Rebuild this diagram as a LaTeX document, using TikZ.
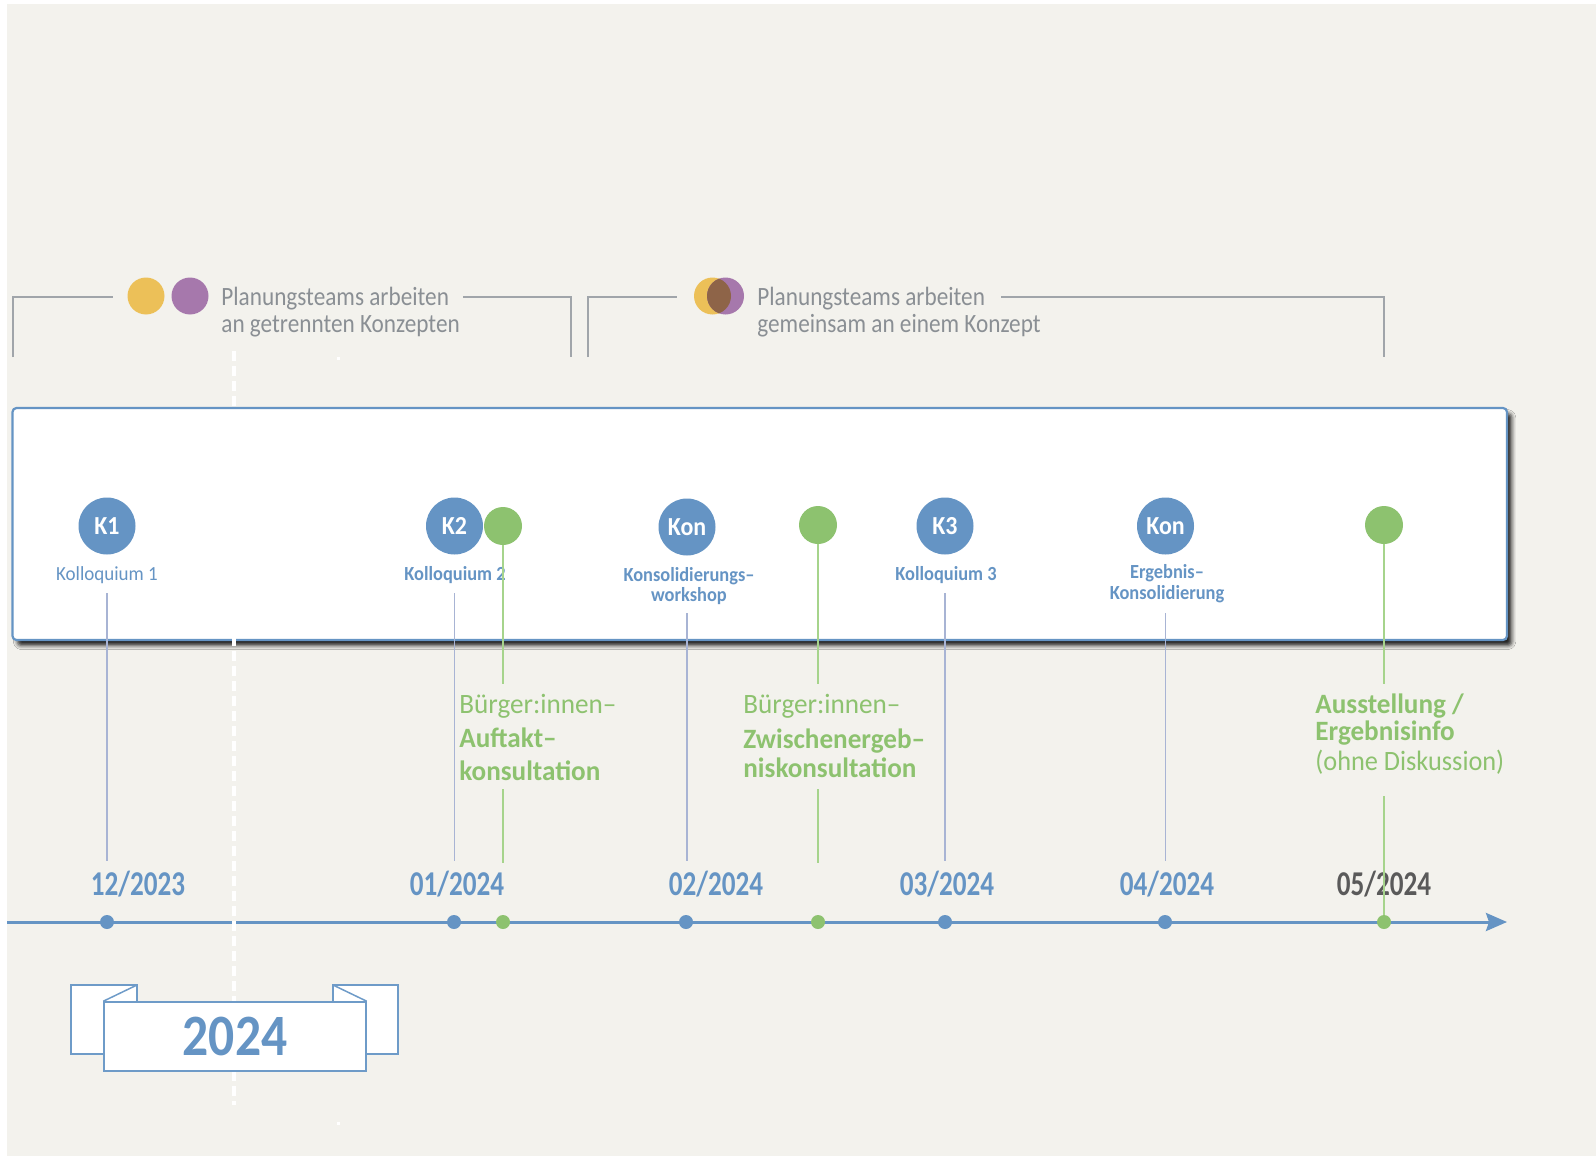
\documentclass[tikz,border=0pt]{standalone}
\usepackage{fontspec}
\setmainfont{Carlito}
\newfontfamily\graytxtfont[FakeStretch=0.88]{Carlito}
\newfontfamily\lblfont[FakeStretch=0.92]{Carlito}
\newfontfamily\lblregfont[FakeStretch=0.95]{Carlito}
\newfontfamily\datefont[FakeStretch=0.78]{Carlito}
\newfontfamily\yearfont[FakeStretch=0.88]{Carlito}
\newfontfamily\greenfont[FakeStretch=0.97]{Carlito}
\newfontfamily\noteFont[FakeStretch=0.94]{Carlito}
\usetikzlibrary{shadows.blur,arrows.meta}

\definecolor{bgc}{RGB}{243,242,237}
\definecolor{tlblue}{RGB}{101,148,196}
\definecolor{tlgreen}{RGB}{141,194,111}
\definecolor{lgreen}{RGB}{166,212,140}
\definecolor{lav}{RGB}{168,180,212}
\definecolor{brkgray}{RGB}{160,165,170}
\definecolor{txtgray}{RGB}{138,143,148}
\definecolor{tlyellow}{RGB}{236,192,88}
\definecolor{tlpurple}{RGB}{166,120,172}
\definecolor{tlbrown}{RGB}{142,100,72}
\definecolor{dategray}{RGB}{90,90,90}
\definecolor{ribbonblue}{RGB}{110,155,200}

\tikzset{
  brk/.style={draw=brkgray, line width=1pt},
  graytxt/.style={anchor=base west, inner sep=0pt, text=txtgray,
    font=\graytxtfont\fontsize{13.2}{13.2}\selectfont},
  teamdot/.style={circle, minimum size=18.5pt, inner sep=0pt},
  kcirc/.style={circle, fill=tlblue, text=white, minimum size=28.5pt, inner sep=0pt,
    font=\lblfont\bfseries\fontsize{13}{13}\selectfont},
  gcirc/.style={circle, fill=tlgreen, minimum size=19pt, inner sep=0pt},
  evlabel/.style={anchor=base, inner sep=0pt, text=tlblue,
    font=\lblfont\bfseries\fontsize{10}{10}\selectfont},
  bluelink/.style={draw=lav, line width=0.7pt},
  greenlink/.style={draw=lgreen, line width=0.7pt},
  adot/.style={circle, fill=tlblue, minimum size=7pt, inner sep=0pt},
  gdot/.style={circle, fill=tlgreen, minimum size=7pt, inner sep=0pt},
  datelbl/.style={anchor=base, inner sep=0pt, text=tlblue,
    font=\datefont\bfseries\fontsize{17.4}{17.4}\selectfont},
  greentxt/.style={anchor=base west, inner sep=0pt, text=tlgreen,
    font=\greenfont\fontsize{14}{14}\selectfont},
  greenbold/.style={greentxt, font=\greenfont\bfseries\fontsize{14}{14}\selectfont},
  flap/.style={draw=ribbonblue, fill=white, line width=0.75pt},
}

\begin{document}
\begin{tikzpicture}[x=0.5pt, y=-0.5pt]
\useasboundingbox (0,0) rectangle (1596,1156);
\fill[white] (0,0) rectangle (1596,1156);
\fill[bgc] (7,4) rectangle (1596,1156);

% ---- phase 1: separate concepts ----
\coordinate (b1l) at (12.5,357);
\coordinate (b1lt) at (12.5,297);
\coordinate (b1le) at (113,297);
\coordinate (b1rs) at (463,297);
\coordinate (b1rt) at (571,297);
\coordinate (b1r) at (571,357);
\draw[brk] (b1l) -- (b1lt) -- (b1le);
\draw[brk] (b1rs) -- (b1rt) -- (b1r);
\node[teamdot, fill=tlyellow] (y1) at (146,296) {};
\node[teamdot, fill=tlpurple] (p1) at (190,296) {};
\node[graytxt] (t1a) at (221,305) {Planungsteams arbeiten};
\node[graytxt] (t1b) at (221,332) {an getrennten Konzepten};

% ---- phase 2: one joint concept ----
\coordinate (b2l) at (588,357);
\coordinate (b2lt) at (588,297);
\coordinate (b2le) at (677,297);
\coordinate (b2rs) at (1001,297);
\coordinate (b2rt) at (1384,297);
\coordinate (b2r) at (1384,357);
\draw[brk] (b2l) -- (b2lt) -- (b2le);
\draw[brk] (b2rs) -- (b2rt) -- (b2r);
\node[teamdot, fill=tlyellow] (y2) at (712.5,296) {};
\node[teamdot, fill=tlpurple] (p2) at (725.5,296) {};
\begin{scope}
  \clip (y2.center) circle[radius=18.5];
  \fill[tlbrown] (p2.center) circle[radius=18.5];
\end{scope}
\node[graytxt] (t2a) at (757,305) {Planungsteams arbeiten};
\node[graytxt] (t2b) at (757,332) {gemeinsam an einem Konzept};

% ---- event panel ----
\path[draw=tlblue, line width=1.1pt, fill=white, rounded corners=2pt,
  blur shadow={shadow xshift=2.4pt, shadow yshift=-2.8pt, shadow blur radius=2pt, shadow opacity=85}]
  (12.5,408) rectangle (1507,640);

% events
\node[kcirc] (k1) at (107,526) {K1};
\node[evlabel, font=\lblregfont\fontsize{10}{10}\selectfont] (k1l) at (107,580) {Kolloquium 1};

\node[kcirc] (k2) at (454.5,526) {K2};
\node[gcirc] (g1) at (503,526) {};
\node[evlabel] (k2l) at (455,580) {Kolloquium 2};

\node[kcirc] (kon1) at (687,527) {Kon};
\node[evlabel] (kon1a) at (689,581) {Konsolidierungs–};
\node[evlabel] (kon1b) at (689,601) {workshop};

\node[gcirc] (g2) at (818,525) {};

\node[kcirc] (k3) at (945,526) {K3};
\node[evlabel] (k3l) at (946,580) {Kolloquium 3};

\node[kcirc] (kon2) at (1165.5,526) {Kon};
\node[evlabel] (kon2a) at (1167,578) {Ergebnis–};
\node[evlabel] (kon2b) at (1167,599) {Konsolidierung};

\node[gcirc] (g3) at (1384,525) {};

% citizen participation texts
\node[greentxt] (c1a) at (459,713) {Bürger:innen–};
\node[greenbold] (c1b) at (459,747) {Auftakt–};
\node[greenbold] (c1c) at (459,780) {konsultation};

\node[greentxt] (c2a) at (743,713) {Bürger:innen–};
\node[greenbold] (c2b) at (743,748) {Zwischenergeb–};
\node[greenbold] (c2c) at (743,777) {niskonsultation};

\node[greenbold] (c3a) at (1315,713) {Ausstellung /};
\node[greenbold] (c3b) at (1315,740) {Ergebnisinfo};
\node[greentxt, font=\noteFont\fontsize{14}{14}\selectfont] (c3c) at (1315,770) {(ohne Diskussion)};

% ---- time axis ----
\coordinate (ax0) at (7,922);
\coordinate (ax1) at (1507,922);
\draw[draw=tlblue, line width=1.5pt, -{Stealth[length=10.5pt, width=9pt, inset=1.5pt]}] (ax0) -- (ax1);

\node[datelbl] (d1) at (138,895) {12/2023};
\node[datelbl] (d2) at (457,895) {01/2024};
\node[datelbl] (d3) at (716,895) {02/2024};
\node[datelbl] (d4) at (947,895) {03/2024};
\node[datelbl] (d5) at (1167,895) {04/2024};
\node[datelbl, text=dategray] (d6) at (1384,895) {05/2024};

\node[adot] (a1) at (107,922) {};
\node[adot] (a2) at (454,922) {};
\node[gdot] (a3) at (503,922) {};
\node[adot] (a4) at (686,922) {};
\node[gdot] (a5) at (818,922) {};
\node[adot] (a6) at (945,922) {};
\node[adot] (a7) at (1165,922) {};
\node[gdot] (a8) at (1384,922) {};

% connector stems
\coordinate (s1t) at (107,593);   \coordinate (s1b) at (107,861);
\coordinate (s2t) at (454.5,593); \coordinate (s2b) at (454.5,861);
\coordinate (s4t) at (687,613);   \coordinate (s4b) at (687,861);
\coordinate (s6t) at (945,593);   \coordinate (s6b) at (945,861);
\coordinate (s7t) at (1165.5,613);\coordinate (s7b) at (1165.5,861);
\draw[bluelink] (s1t) -- (s1b);
\draw[bluelink] (s2t) -- (s2b);
\draw[bluelink] (s4t) -- (s4b);
\draw[bluelink] (s6t) -- (s6b);
\draw[bluelink] (s7t) -- (s7b);

\coordinate (g1m) at (503,684); \coordinate (g1n) at (503,789); \coordinate (g1e) at (503,863);
\coordinate (g2m) at (818,684); \coordinate (g2n) at (818,789); \coordinate (g2e) at (818,863);
\coordinate (g3m) at (1384,684); \coordinate (g3n) at (1384,796);
\draw[greenlink] (g1.south) -- (g1m);
\draw[greenlink] (g1n) -- (g1e);
\draw[greenlink] (g2.south) -- (g2m);
\draw[greenlink] (g2n) -- (g2e);
\draw[greenlink] (g3.south) -- (g3m);
\draw[greenlink] (g3n) -- (a8.north);

% year boundary
\coordinate (yb0) at (234,351);
\coordinate (yb1) at (234,1105);
\draw[white, line width=1.6pt, dash pattern=on 5pt off 2.5pt] (yb0) -- (yb1);
\fill[white] (336.5,356.5) rectangle (339.5,359.5);
\fill[white] (336.5,1121.5) rectangle (339.5,1124.5);

% ---- year ribbon ----
\draw[flap] (71,985) rectangle (137,1054);
\draw[flap] (333,985) rectangle (398,1054);
\node[draw=ribbonblue, fill=white, line width=0.75pt, minimum width=131pt, minimum height=34.5pt,
  inner sep=0pt, text=tlblue, font=\yearfont\bfseries\fontsize{29.3}{29.3}\selectfont]
  (year) at (235,1036.5) {2024};
\draw[draw=ribbonblue, line width=0.75pt] (year.north west) -- (137,985);
\draw[draw=ribbonblue, line width=0.75pt] (year.north east) -- (333,985);
\end{tikzpicture}
\end{document}
